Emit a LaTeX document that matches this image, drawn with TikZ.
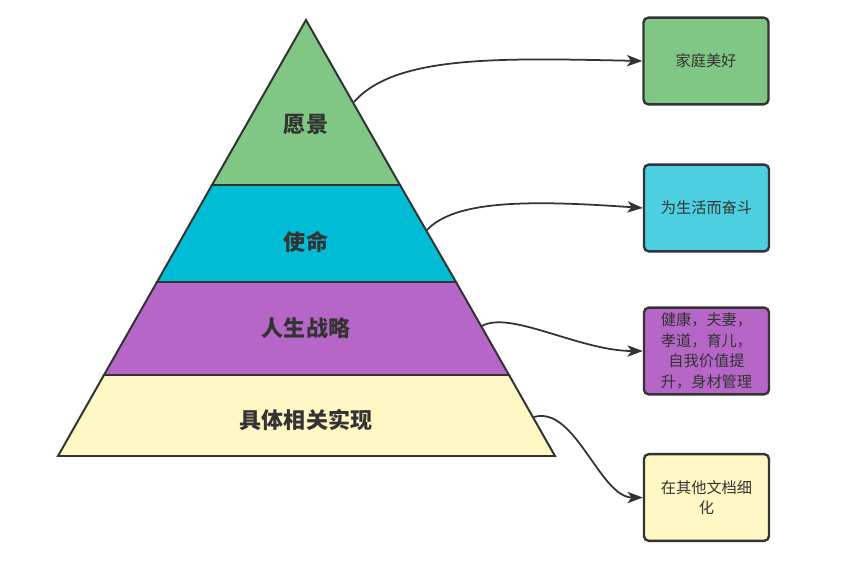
\documentclass[tikz,border=0pt]{standalone}
\usepackage{fontspec}
\setmainfont{Noto Sans CJK SC}
\usetikzlibrary{arrows.meta}

\definecolor{lineC}{HTML}{333333}
\definecolor{visionC}{HTML}{80C684}
\definecolor{missionC}{HTML}{00BCD4}
\definecolor{strategyC}{HTML}{B666C6}
\definecolor{detailC}{HTML}{FFF8C4}
\definecolor{missionBoxC}{HTML}{4CD0E1}

\begin{document}
\begin{tikzpicture}[x=0.03cm, y=-0.03cm,
  layer/.style={draw=lineC, line width=1.7pt, line join=miter},
  title/.style={font=\fontsize{18.8}{22}\selectfont\bfseries, text=lineC},
  goal/.style={draw=lineC, line width=2pt, rounded corners=4pt, minimum width=3.75cm,
    minimum height=2.6cm, inner sep=2pt, align=center, text=lineC,
    font=\fontsize{13}{17.5}\selectfont},
  link/.style={draw=lineC, line width=1.5pt, -{Stealth[length=4.6mm, width=3.4mm, inset=1.2mm]}}]
  \useasboundingbox (0,0) rectangle (854,561);

  % Pyramid layers
  \filldraw[layer, fill=detailC] (104,375) -- (509,375) -- (555,456) -- (58,456) -- cycle;
  \filldraw[layer, fill=strategyC] (157,282) -- (456,282) -- (509,375) -- (104,375) -- cycle;
  \filldraw[layer, fill=missionC] (212,185) -- (400,185) -- (456,282) -- (157,282) -- cycle;
  \filldraw[layer, fill=visionC] (306,20) -- (400,185) -- (212,185) -- cycle;

  % Layer titles
  \node[title] (vision) at (306,125) {愿景};
  \node[title] (mission) at (306,242) {使命};
  \node[title] (strategy) at (306,328) {人生战略};
  \node[title] (detail) at (306,420) {具体相关实现};

  % Edge points
  \coordinate (vEdge) at (354,102);
  \coordinate (mEdge) at (427,230);
  \coordinate (sEdge) at (482,326);
  \coordinate (dEdge) at (534,417);

  % Right boxes
  \node[goal, fill=visionC] (family) at (706,61) {家庭美好};
  \node[goal, fill=missionBoxC] (strive) at (706.5,208) {为生活而奋斗};
  \node[goal, fill=strategyC] (health) at (706.5,351) {健康，夫妻，\\孝道，育儿，\\自我价值提\\升，身材管理};
  \node[goal, fill=detailC] (other) at (706.5,497.5) {在其他文档细\\化};

  % Links
  \draw[link] (vEdge) .. controls (395,55) and (500,58) .. (family.west);
  \draw[link] (mEdge) .. controls (455,200) and (530,200) .. (strive.west);
  \draw[link] (sEdge) .. controls (510,310) and (580,351) .. (health.west);
  \draw[link] (dEdge) .. controls (575,405) and (600,497.5) .. (other.west);
\end{tikzpicture}
\end{document}
